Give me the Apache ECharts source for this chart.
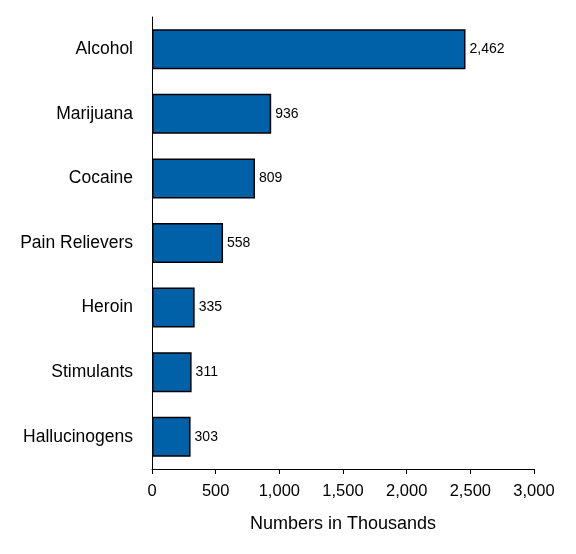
<!DOCTYPE html>
<html>
<head>
<meta charset="utf-8">
<script src="https://cdn.jsdelivr.net/npm/echarts@6/dist/echarts.min.js"></script>
<style>
html,body{margin:0;padding:0;background:#fff;}
#chart{width:576px;height:554px;}
</style>
</head>
<body>
<div id="chart"></div>
<script>
// data, bottom to top as ECharts draws category axis on y
var categories = ["Hallucinogens", "Stimulants", "Heroin", "Pain Relievers", "Cocaine", "Marijuana", "Alcohol"];
var values = [303, 311, 335, 558, 809, 936, 2462];
var xTicks = [0, 500, 1000, 1500, 2000, 2500, 3000];

function fmt(n){
	return String(n).replace(/\B(?=(\d{3})+(?!\d))/g, ",");
}

var myChart = echarts.init(document.getElementById('chart'));
var option = {
	animation:false,
	textStyle:{fontFamily:'Liberation Sans, Arial, sans-serif'},
	grid:{left:152, right:42, top:17, bottom:85, containLabel:false},
	xAxis:{
		type:'value',
		min:xTicks[0],
		max:xTicks[xTicks.length-1],
		interval:500,
		name:'Numbers in Thousands',
		nameLocation:'middle',
		nameGap:46,
		nameTextStyle:{fontSize:18, color:'#000'},
		axisLine:{show:true, lineStyle:{color:'#000', width:1}},
		axisTick:{show:true, length:5, lineStyle:{color:'#000'}},
		axisLabel:{fontSize:16.5, color:'#000', margin:14, formatter:function(v){return fmt(v);}},
		splitLine:{show:false}
	},
	yAxis:{
		type:'category',
		data:categories,
		axisLine:{show:true, lineStyle:{color:'#000', width:1}},
		axisTick:{show:false},
		axisLabel:{fontSize:17.5, color:'#000', margin:19, padding:[4,0,0,0]}
	},
	series:[{
		type:'bar',
		data:values,
		barCategoryGap:'38%',
		itemStyle:{color:'#0060a8', borderColor:'#000', borderWidth:1.5},
		label:{
			show:true,
			position:'right',
			distance:4,
			fontSize:14,
			color:'#000',
			formatter:function(p){return fmt(p.value);}
		}
	}]
};
myChart.setOption(option);
</script>
</body>
</html>
